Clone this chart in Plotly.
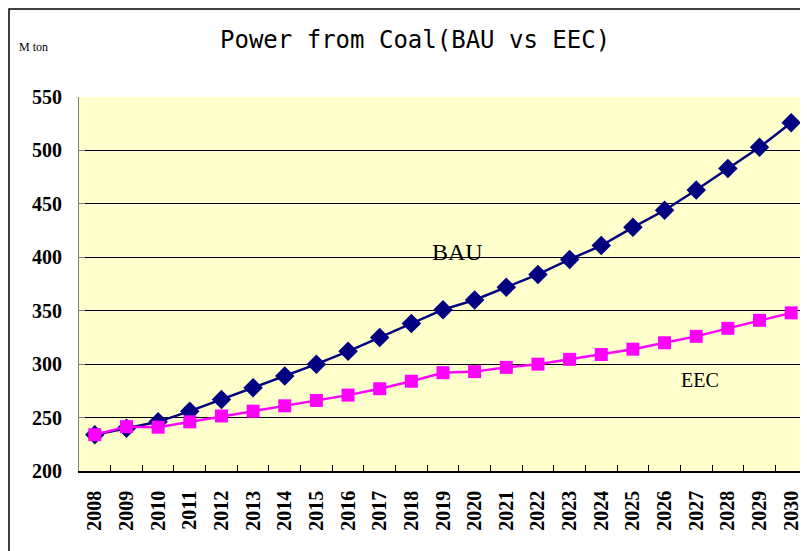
import plotly.graph_objects as go

years = [str(y) for y in range(2008, 2031)]
bau = [234, 240, 246, 256, 267, 278, 289, 300, 312, 325, 338, 351, 360, 372, 384, 398, 411, 428, 444, 463, 483, 503, 526]
eec = [234, 241.5, 241, 246, 251.5, 256, 261, 266, 271, 277, 284, 292, 293, 297, 300, 304.5, 309, 314, 320, 326, 333.5, 341, 348]
y_ticks = [200, 250, 300, 350, 400, 450, 500, 550]

# page body has an 8px margin; compensate so screen coordinates match
OFF = 8
W, H = 808 - OFF, 551 - OFF
L, R, T, B = 79 - OFF, 807 - OFF, 97 - OFF, 471 - OFF

fig = go.Figure()
fig.add_trace(go.Scatter(
    x=years, y=bau, mode="lines+markers", name="BAU",
    line=dict(color="#000080", width=2.5),
    marker=dict(symbol="diamond", size=15, color="#000080"),
))
fig.add_trace(go.Scatter(
    x=years, y=eec, mode="lines+markers", name="EEC",
    line=dict(color="#FF00FF", width=2.5),
    marker=dict(symbol="square", size=13, color="#FF00FF"),
))

def px_x(px):
    return (px - OFF - L) / (R - L)

def px_y(py):
    return (B - (py - OFF)) / (B - T)

fig.update_layout(
    width=W, height=H,
    margin=dict(l=L, r=W - R, t=T, b=H - B, autoexpand=False),
    paper_bgcolor="white",
    plot_bgcolor="#FFFFCC",
    showlegend=False,
    xaxis=dict(
        type="category",
        tickson="boundaries",
        ticks="inside", ticklen=6, tickcolor="#000000",
        tickangle=-90,
        tickfont=dict(family="Liberation Serif", size=20, color="#000000"),
        ticklabelstandoff=10,
        showline=True, linecolor="#000000", linewidth=1.5,
        mirror=False,
        showgrid=False,
        range=[-0.5, 22.5],
    ),
    yaxis=dict(
        range=[200, 550],
        tickvals=y_ticks,
        ticktext=[f"<b>{v}</b>" for v in y_ticks],
        ticks="inside", ticklen=6, tickcolor="#808080",
        tickfont=dict(family="Liberation Serif", size=20, color="#000000"),
        ticklabelstandoff=12,
        showline=True, linecolor="#808080", linewidth=1,
        mirror=True,
        showgrid=True, gridcolor="#000000", gridwidth=1,
        zeroline=False,
    ),
    font=dict(family="Liberation Serif"),
)
fig.update_xaxes(ticktext=[f"<b>{y}</b>" for y in years], tickvals=years)

# right frame of plot area
fig.add_shape(type="line", xref="paper", yref="paper", x0=1, x1=1, y0=0, y1=1,
              line=dict(color="#808080", width=1))

# outer chart border (left and top edges)
bx = px_x(9)
by = px_y(9)
fig.add_shape(type="path", xref="paper", yref="paper",
              path=f"M {bx},{px_y(560)} L {bx},{by} L {px_x(820)},{by}",
              line=dict(color="#000000", width=1.5))

def note(text, x, y, family, size):
    fig.add_annotation(text=text, xref="paper", yref="paper",
                       x=px_x(x), y=px_y(y), xanchor="center", yanchor="middle",
                       showarrow=False,
                       font=dict(family=family, size=size, color="#000000"))

note("Power from Coal(BAU vs EEC)", 415, 40, "DejaVu Sans Mono", 24)
note("M ton", 33, 47, "Liberation Serif", 12)
note("BAU", 457, 252, "Liberation Serif", 24)
note("EEC", 700, 380, "Liberation Serif", 20)

fig.write_html("out.html")
